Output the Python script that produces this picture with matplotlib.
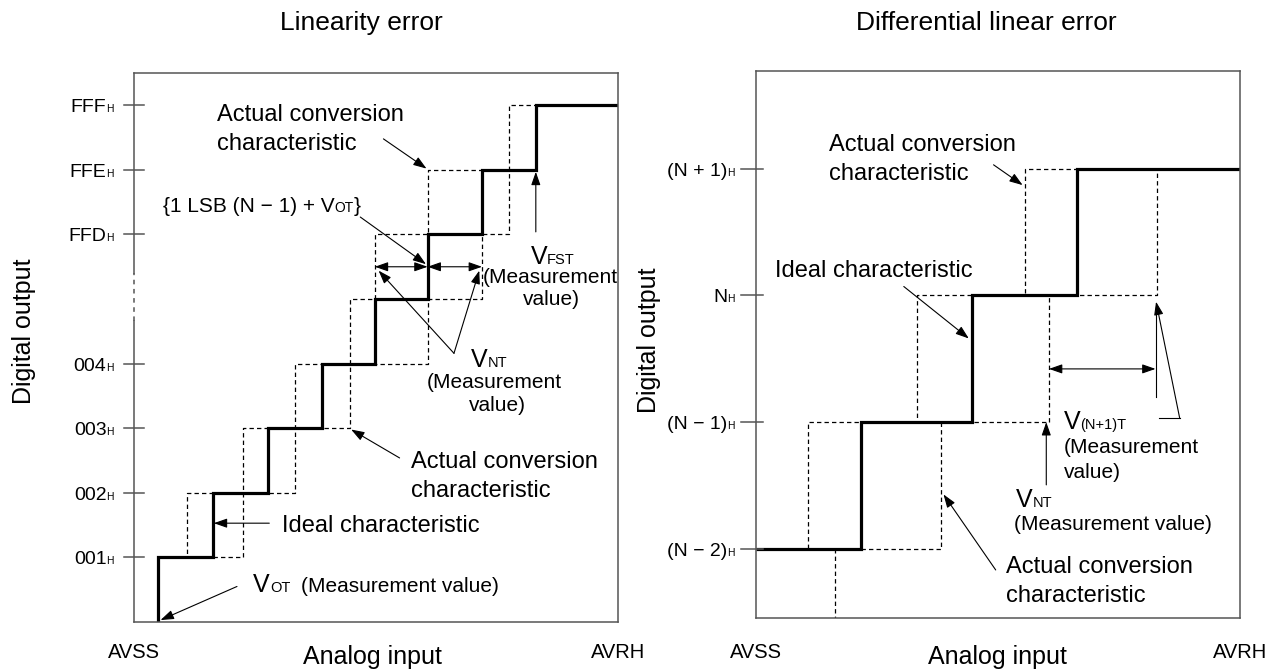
import matplotlib
matplotlib.use("Agg")
import matplotlib.pyplot as plt
from matplotlib.transforms import blended_transform_factory

plt.rcParams['font.family'] = ['Liberation Sans', 'DejaVu Sans']
FONT = ['Liberation Sans', 'DejaVu Sans']

# ---------------- data ----------------
# Linearity error panel (x in LSB-like units, y in code levels)
lin_ideal_steps = [0.46, 1.47, 2.50, 3.50, 4.48, 5.46, 6.47, 7.47]
lin_actual_a_steps = [0.46, 1.00, 2.03, 3.00, 4.02, 4.48, 5.46, 6.97]
lin_actual_b_steps = [0.46, 2.03, 3.00, 4.02, 5.46, 6.47, 6.97, 7.47]
lin_tick_levels = [1, 2, 3, 4, 6, 7, 8]
lin_tick_labels = ['001', '002', '003', '004', 'FFD', 'FFE', 'FFF']
lin_xmax, lin_ymax = 9.0, 8.5
lin_break = (4.66, 5.40)

# Differential linear error panel
dnl_ideal_steps = [0.977, 2.01, 2.99]
dnl_actual_a_steps = [0.483, 1.50, 2.50]
dnl_actual_b_steps = [0.737, 1.726, 2.725, 3.73]
dnl_tick_levels = [0, 1, 2, 3]
dnl_tick_labels = ['(N − 2)', '(N − 1)', 'N', '(N + 1)']
dnl_xmax, dnl_ymin, dnl_ymax = 4.5, -0.545, 3.77

W, H = 1281, 672
fig = plt.figure(figsize=(W / 100, H / 100), dpi=100)
renderer = fig.canvas.get_renderer()


def px_axes(x0, y0, x1, y1):
    return fig.add_axes([x0 / W, 1 - y1 / H, (x1 - x0) / W, (y1 - y0) / H])


ax1 = px_axes(133.6, 73, 618.2, 622)
ax2 = px_axes(755.7, 71, 1240, 618)

SPINE_C = '#555555'
for ax in (ax1, ax2):
    ax.set_xticks([])
    ax.set_yticks([])
    for s in ax.spines.values():
        s.set_color(SPINE_C)
        s.set_linewidth(1.1)

ax1.set_xlim(0, lin_xmax)
ax1.set_ylim(0, lin_ymax)
ax2.set_xlim(0, dnl_xmax)
ax2.set_ylim(dnl_ymin, dnl_ymax)


def stair(steps, start_level, x_end, x_start=None):
    xs, ys = [], []
    lvl = start_level
    if x_start is None:
        xs.append(steps[0]); ys.append(lvl)
    else:
        xs.append(x_start); ys.append(lvl)
    for t in steps:
        xs += [t, t]
        ys += [lvl, lvl + 1]
        lvl += 1
    xs.append(x_end); ys.append(lvl)
    return xs, ys


DASH = dict(color='black', lw=0.9, linestyle=(0, (3.5, 2.5)))
THICK = dict(color='black', lw=2.3, solid_joinstyle='miter', solid_capstyle='butt')

# left panel staircases
for steps in (lin_actual_a_steps, lin_actual_b_steps):
    xs, ys = stair(steps, 0, lin_xmax)
    ax1.plot(xs, ys, **DASH)
xs, ys = stair(lin_ideal_steps, 0, lin_xmax)
ax1.plot(xs, ys, **THICK)

# right panel staircases
xs, ys = stair(dnl_actual_a_steps, 0, dnl_xmax, x_start=0)
ax2.plot(xs, ys, **DASH)
xs, ys = stair(dnl_actual_b_steps, -1, dnl_xmax)
ax2.plot(xs, ys, **DASH)
xs, ys = stair(dnl_ideal_steps, 0, dnl_xmax, x_start=0)
ax2.plot(xs, ys, **THICK)

# left spine with break
ax1.spines['left'].set_visible(False)
ax1.plot([0, 0], [0, lin_break[0]], color=SPINE_C, lw=1.1, clip_on=False)
ax1.plot([0, 0], [lin_break[0], lin_break[1]], color=SPINE_C, lw=1.1,
         linestyle=(0, (3, 3)), clip_on=False)
ax1.plot([0, 0], [lin_break[1], lin_ymax], color=SPINE_C, lw=1.1, clip_on=False)


def runs_text(ax, x, y, runs, transform=None, ha='left', dx=0, dy=0):
    """Draw text runs sharing a baseline. runs: (text, size) or gap in px."""
    widths = []
    for r in runs:
        if isinstance(r, (int, float)):
            widths.append(r)
        else:
            t = fig.text(0, 0, r[0], fontsize=r[1], family=FONT)
            widths.append(t.get_window_extent(renderer).width)
            t.remove()
    total = sum(widths)
    off = dx - total if ha == 'right' else (dx - total / 2 if ha == 'center' else dx)
    for r, w in zip(runs, widths):
        if not isinstance(r, (int, float)):
            ax.annotate(r[0], xy=(x, y), xycoords=transform or ax.transData,
                        xytext=(off, dy), textcoords='offset pixels',
                        fontsize=r[1], family=FONT, va='baseline', ha='left',
                        annotation_clip=False)
        off += w


# ticks and tick labels
def draw_ticks(ax, levels, labels, out_px, in_px, lab_gap_px):
    wpx = ax.get_window_extent(renderer).width
    tr = ax.get_yaxis_transform()
    for lv, lb in zip(levels, labels):
        ax.plot([-out_px / wpx, in_px / wpx], [lv, lv], color=SPINE_C, lw=1.1,
                transform=tr, clip_on=False)
        runs_text(ax, 0, lv, [(lb, 14), ('H', 7.5)], transform=tr,
                  ha='right', dx=-lab_gap_px, dy=-7)


draw_ticks(ax1, lin_tick_levels, lin_tick_labels, 10, 10, 19.6)
draw_ticks(ax2, dnl_tick_levels, dnl_tick_labels, 15, 7, 20.7)

ARW = dict(arrowstyle='-|>,head_length=0.8,head_width=0.28', color='black',
           lw=0.8, shrinkA=0, shrinkB=0, mutation_scale=10)
DARW = dict(arrowstyle='<|-|>,head_length=0.8,head_width=0.28', color='black',
            lw=0.8, shrinkA=0, shrinkB=0, mutation_scale=10)


def arrow(ax, tail, head, props=ARW):
    ax.annotate('', xy=head, xytext=tail, arrowprops=props, annotation_clip=False)


# ---------------- left panel annotations ----------------
runs_text(ax1, 1.545, 7.755, [('Actual conversion', 17)])
runs_text(ax1, 1.545, 7.31, [('characteristic', 17)])
arrow(ax1, (4.64, 7.48), (5.44, 7.02))

runs_text(ax1, 0.544, 6.35, [('{1 LSB (N − 1) + V', 15), ('OT', 10), ('}', 15)])
arrow(ax1, (4.21, 6.27), (5.43, 5.54))

arrow(ax1, (lin_actual_a_steps[5], 5.5), (lin_ideal_steps[5], 5.5), DARW)
arrow(ax1, (lin_ideal_steps[5], 5.5), (lin_actual_b_steps[5], 5.5), DARW)

runs_text(ax1, 7.37, 5.54, [('V', 18), ('FST', 10.5)])
runs_text(ax1, 7.745, 5.25, [('(Measurement', 15)], ha='center')
runs_text(ax1, 7.76, 4.91, [('value)', 15)], ha='center')
arrow(ax1, (7.47, 6.04), (7.47, 6.97))

runs_text(ax1, 6.27, 3.95, [('V', 18), ('NT', 10.5)])
runs_text(ax1, 6.70, 3.62, [('(Measurement', 15)], ha='center')
runs_text(ax1, 6.76, 3.26, [('value)', 15)], ha='center')
arrow(ax1, (5.95, 4.16), (4.55, 5.44))
arrow(ax1, (5.95, 4.16), (6.42, 5.44))

runs_text(ax1, 5.16, 2.38, [('Actual conversion', 17)])
runs_text(ax1, 5.16, 1.94, [('characteristic', 17)])
arrow(ax1, (4.94, 2.54), (4.04, 2.98))

runs_text(ax1, 2.75, 1.40, [('Ideal characteristic', 17)])
arrow(ax1, (2.52, 1.53), (1.49, 1.53))

runs_text(ax1, 2.22, 0.46, [('V', 18), ('OT', 10.5), 11, ('(Measurement value)', 15)])
arrow(ax1, (1.92, 0.55), (0.50, 0.03))

# ---------------- right panel annotations ----------------
runs_text(ax2, 0.68, 3.136, [('Actual conversion', 17)])
runs_text(ax2, 0.68, 2.91, [('characteristic', 17)])
arrow(ax2, (2.21, 3.03), (2.48, 2.87))

runs_text(ax2, 0.18, 2.144, [('Ideal characteristic', 17)])
arrow(ax2, (1.376, 2.07), (1.98, 1.66))

arrow(ax2, (dnl_actual_b_steps[2], 1.42), (3.715, 1.42), DARW)
ax2.plot([3.72, 3.72], [1.20, 1.85], color='black', lw=0.8)

runs_text(ax2, 2.86, 0.945, [('V', 18), ('(N+1)T', 10.5)])
runs_text(ax2, 2.86, 0.755, [('(Measurement', 15)])
runs_text(ax2, 2.86, 0.558, [('value)', 15)])
ax2.plot([3.75, 3.94], [1.03, 1.03], color='black', lw=0.8)
arrow(ax2, (3.94, 1.03), (3.72, 1.95))

runs_text(ax2, 2.42, 0.334, [('V', 18), ('NT', 10.5)])
runs_text(ax2, 2.40, 0.15, [('(Measurement value)', 15)])
arrow(ax2, (2.70, 0.505), (2.70, 1.0))

runs_text(ax2, 2.33, -0.19, [('Actual conversion', 17)])
runs_text(ax2, 2.33, -0.416, [('characteristic', 17)])
arrow(ax2, (2.23, -0.166), (1.745, 0.43))

# ---------------- axis texts ----------------
for ax, xmax, cx in ((ax1, lin_xmax, 4.44), (ax2, dnl_xmax, 2.25)):
    tr = blended_transform_factory(ax.transData, fig.transFigure)
    ax.text(0, 1 - 653 / H, 'AVSS', transform=tr, ha='center', va='center', fontsize=14.5)
    ax.text(xmax, 1 - 653 / H, 'AVRH', transform=tr, ha='center', va='center', fontsize=14.5)
    ax.text(cx, 1 - 657 / H, 'Analog input', transform=tr, ha='center', va='center', fontsize=18)

fig.text(24 / W, 1 - 331 / H, 'Digital output', rotation=90, ha='center', va='center', fontsize=18)
fig.text(649 / W, 1 - 340 / H, 'Digital output', rotation=90, ha='center', va='center', fontsize=18)

fig.text(361 / W, 1 - 30 / H, 'Linearity error', ha='center', va='baseline', fontsize=19)
fig.text(986 / W, 1 - 30 / H, 'Differential linear error', ha='center', va='baseline', fontsize=19)

fig.savefig('out.png', dpi=100)
